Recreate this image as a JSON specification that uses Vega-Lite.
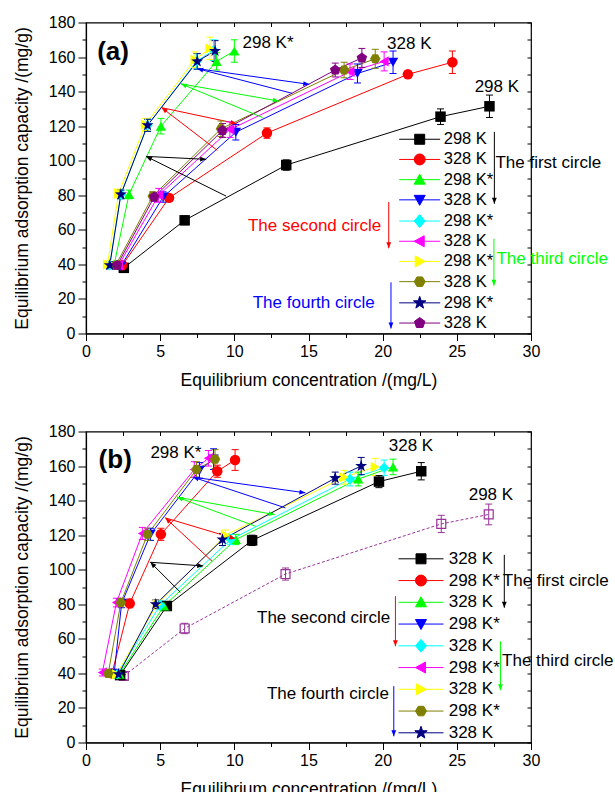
{
 "$schema": "https://vega.github.io/schema/vega-lite/v6.json",
 "padding": {"left": 12, "top": 13.5, "right": 2, "bottom": 0},
 "spacing": 32,
 "config": {
  "font": "Liberation Sans",
  "view": {"stroke": "black", "strokeWidth": 1.2},
  "axis": {"grid": false, "domainColor": "black", "tickColor": "black", "labelColor": "black", "titleColor": "black", "labelFont": "Liberation Sans", "titleFont": "Liberation Sans", "labelFontSize": 16, "titleFontSize": 17.5, "titleFontWeight": "normal", "domainWidth": 1.2, "tickWidth": 1, "labelFlush": false, "labelOverlap": false}
 },
 "resolve": {"scale": {"color": "independent", "shape": "independent", "fill": "independent", "stroke": "independent", "x": "independent", "y": "independent"}},
 "datasets": {
  "a": [
   {"s":1,"x":2.55,"y":38,"e":1.5},{"s":1,"x":6.65,"y":65.5,"e":2.5},{"s":1,"x":13.5,"y":97.5,"e":3},{"s":1,"x":23.9,"y":125.5,"e":4.5},{"s":1,"x":27.2,"y":131.5,"e":6.5},
   {"s":2,"x":2.45,"y":39.5,"e":1.5},{"s":2,"x":5.6,"y":78.5,"e":2},{"s":2,"x":12.2,"y":116,"e":3},{"s":2,"x":21.7,"y":150,"e":2},{"s":2,"x":24.7,"y":157,"e":6.5},
   {"s":3,"x":1.9,"y":40,"e":1.5},{"s":3,"x":2.9,"y":80.5,"e":2.5},{"s":3,"x":5.05,"y":120,"e":4.5},{"s":3,"x":8.8,"y":157.5,"e":5},{"s":3,"x":10,"y":163.5,"e":6.5},
   {"s":4,"x":2.35,"y":39,"e":2},{"s":4,"x":5.2,"y":79,"e":3},{"s":4,"x":10.1,"y":116.5,"e":4.5},{"s":4,"x":18.3,"y":150.5,"e":5.5},{"s":4,"x":20.7,"y":157,"e":6.5},
   {"s":5,"x":1.6,"y":39.5,"e":2},{"s":5,"x":2.35,"y":80.5,"e":2.5},{"s":5,"x":4.15,"y":120.5,"e":3.5},{"s":5,"x":7.45,"y":157.5,"e":4.5},{"s":5,"x":8.6,"y":164,"e":6},
   {"s":6,"x":2.2,"y":39.5,"e":2},{"s":6,"x":4.9,"y":80,"e":4},{"s":6,"x":9.7,"y":118,"e":4.5},{"s":6,"x":17.8,"y":151.5,"e":4.5},{"s":6,"x":20.1,"y":157.5,"e":5.5},
   {"s":7,"x":1.45,"y":40,"e":2},{"s":7,"x":2.2,"y":81,"e":2.5},{"s":7,"x":4,"y":121,"e":3.5},{"s":7,"x":7.35,"y":158.5,"e":4.5},{"s":7,"x":8.35,"y":165,"e":6.5},
   {"s":8,"x":2,"y":39.5,"e":2},{"s":8,"x":4.5,"y":79.5,"e":2.5},{"s":8,"x":9.1,"y":118.5,"e":4.5},{"s":8,"x":17.4,"y":152.5,"e":4.5},{"s":8,"x":19.5,"y":159,"e":5.5},
   {"s":9,"x":1.6,"y":39.5,"e":2},{"s":9,"x":2.35,"y":80.5,"e":2.5},{"s":9,"x":4.15,"y":120.5,"e":3.5},{"s":9,"x":7.5,"y":157.5,"e":4.5},{"s":9,"x":8.7,"y":163.5,"e":6},
   {"s":10,"x":2.1,"y":39.5,"e":2},{"s":10,"x":4.6,"y":79,"e":2.5},{"s":10,"x":9.2,"y":117.5,"e":4},{"s":10,"x":16.8,"y":152.5,"e":4},{"s":10,"x":18.6,"y":159.5,"e":5.5}
  ],
  "b": [
   {"s":0,"x":2.55,"y":38.5,"e":2},{"s":0,"x":6.65,"y":66,"e":3},{"s":0,"x":13.45,"y":97.5,"e":3.5},{"s":0,"x":23.95,"y":126.5,"e":5},{"s":0,"x":27.15,"y":132,"e":6},
   {"s":1,"x":2.3,"y":39,"e":1.5},{"s":1,"x":5.45,"y":79,"e":2.5},{"s":1,"x":11.2,"y":117,"e":3},{"s":1,"x":19.75,"y":151,"e":3.5},{"s":1,"x":22.6,"y":157,"e":5},
   {"s":2,"x":1.75,"y":40,"e":2},{"s":2,"x":2.95,"y":80.5,"e":2.5},{"s":2,"x":5.05,"y":120.5,"e":3.5},{"s":2,"x":8.85,"y":157,"e":3.5},{"s":2,"x":10.05,"y":163.5,"e":6},
   {"s":3,"x":2.25,"y":39.5,"e":2},{"s":3,"x":5.25,"y":79,"e":2.5},{"s":3,"x":10.1,"y":117.5,"e":3},{"s":3,"x":18.35,"y":152.5,"e":4},{"s":3,"x":20.7,"y":159.5,"e":4.5},
   {"s":4,"x":1.9,"y":40,"e":2},{"s":4,"x":2.4,"y":80.5,"e":2.5},{"s":4,"x":4.35,"y":120.5,"e":3.5},{"s":4,"x":7.65,"y":157.5,"e":4.5},{"s":4,"x":8.6,"y":164,"e":6},
   {"s":5,"x":2.1,"y":39.5,"e":2},{"s":5,"x":5,"y":79.5,"e":2.5},{"s":5,"x":9.75,"y":117.5,"e":3},{"s":5,"x":17.8,"y":152.5,"e":4},{"s":5,"x":20.1,"y":159,"e":4.5},
   {"s":6,"x":1.1,"y":40.5,"e":2},{"s":6,"x":2.05,"y":81,"e":2.5},{"s":6,"x":3.8,"y":121,"e":3.5},{"s":6,"x":7.3,"y":158,"e":4.5},{"s":6,"x":8.25,"y":164.5,"e":4.5},
   {"s":7,"x":2.05,"y":39.5,"e":2},{"s":7,"x":4.8,"y":80,"e":2.5},{"s":7,"x":9.4,"y":120,"e":3},{"s":7,"x":17.4,"y":153.5,"e":4},{"s":7,"x":19.5,"y":159.5,"e":5},
   {"s":8,"x":1.5,"y":40,"e":2},{"s":8,"x":2.35,"y":81,"e":2.5},{"s":8,"x":4.15,"y":120.5,"e":3.5},{"s":8,"x":7.45,"y":158,"e":4.5},{"s":8,"x":8.7,"y":164,"e":5.5},
   {"s":9,"x":2.2,"y":39.5,"e":2},{"s":9,"x":4.7,"y":80,"e":2.5},{"s":9,"x":9.2,"y":117.5,"e":3.5},{"s":9,"x":16.8,"y":153,"e":3.5},{"s":9,"x":18.55,"y":160,"e":5}
  ],
  "arrA": [
   {"x":9.45,"y":79.5,"x2":4.05,"y2":102.5,"c":"k"},
   {"x":4.05,"y":102.5,"x2":8.1,"y2":100.8,"c":"k"},
   {"x":8.85,"y":106,"x2":5.1,"y2":130.7,"c":"r"},
   {"x":5.1,"y":130.7,"x2":10.15,"y2":121.5,"c":"r"},
   {"x":11.9,"y":125,"x2":6.4,"y2":144.5,"c":"g"},
   {"x":6.4,"y":144.5,"x2":13,"y2":134.5,"c":"g"},
   {"x":13.9,"y":139,"x2":7.5,"y2":153.3,"c":"b"},
   {"x":7.5,"y":153.3,"x2":15.05,"y2":144.2,"c":"b"},
   {"x":27.53,"y":116.7,"x2":27.53,"y2":75.1,"c":"k"},
   {"x":20.41,"y":76.1,"x2":20.41,"y2":49.3,"c":"r"},
   {"x":27.5,"y":54.8,"x2":27.5,"y2":27.7,"c":"g"},
   {"x":20.56,"y":29.6,"x2":20.56,"y2":2.9,"c":"b"}
  ],
  "arrB": [
   {"x":6.36,"y":87,"x2":4.34,"y2":104.3,"c":"k"},
   {"x":4.34,"y":104.3,"x2":7.9,"y2":102.2,"c":"k"},
   {"x":8.5,"y":104.9,"x2":5.35,"y2":130,"c":"r"},
   {"x":5.35,"y":130,"x2":10.07,"y2":117.9,"c":"r"},
   {"x":11.42,"y":125.2,"x2":6.14,"y2":142,"c":"g"},
   {"x":6.14,"y":142,"x2":12.72,"y2":131.9,"c":"g"},
   {"x":13.44,"y":135.8,"x2":7.2,"y2":153.6,"c":"b"},
   {"x":7.2,"y":153.6,"x2":14.79,"y2":144.5,"c":"b"},
   {"x":28.2,"y":108.6,"x2":28.2,"y2":78,"c":"k"},
   {"x":20.86,"y":84.7,"x2":20.86,"y2":55.7,"c":"r"},
   {"x":27.94,"y":58.6,"x2":27.94,"y2":30.3,"c":"g"},
   {"x":20.75,"y":32.6,"x2":20.75,"y2":3.6,"c":"b"}
  ],
  "txtA": [
   {"t":"298 K*","x":10.55,"y":168.4,"c":"k"},
   {"t":"328 K","x":20.3,"y":167.3,"c":"k"},
   {"t":"298 K","x":26.2,"y":142.9,"c":"k"},
   {"t":"The first circle","x":27.6,"y":98.9,"c":"k"},
   {"t":"The second circle","x":10.92,"y":62.3,"c":"r"},
   {"t":"The third circle","x":27.67,"y":43.1,"c":"g"},
   {"t":"The fourth circle","x":11.24,"y":17.6,"c":"b"}
  ],
  "txtB": [
   {"t":"298 K*","x":4.34,"y":167.6,"c":"k"},
   {"t":"328 K","x":20.41,"y":171.5,"c":"k"},
   {"t":"298 K","x":25.8,"y":143.5,"c":"k"},
   {"t":"The first circle","x":28.1,"y":93.3,"c":"k"},
   {"t":"The second circle","x":11.53,"y":72.2,"c":"k"},
   {"t":"The third circle","x":28.05,"y":47,"c":"k"},
   {"t":"The fourth circle","x":12.2,"y":27.8,"c":"k"}
  ]
 },
 "vconcat": [
  {
   "width": 445, "height": 311,
   "resolve": {"scale": {"color": "independent", "shape": "independent", "stroke": "independent"}, "axis": {"x": "independent", "y": "independent"}},
   "layer": [
    {"data": {"name": "a"}, "mark": {"type": "line", "strokeWidth": 1},
     "encoding": {
      "x": {"field": "x", "type": "quantitative", "scale": {"domain": [0, 30], "nice": false},
            "axis": {"orient": "bottom", "values": [0,2.5,5,7.5,10,12.5,15,17.5,20,22.5,25,27.5,30], "labelExpr": "datum.value % 5 === 0 ? datum.label : ''", "tickSize": {"condition": {"test": "datum.value % 5 === 0", "value": 7}, "value": 4}, "labelPadding": 3, "title": "Equilibrium concentration /(mg/L)", "titlePadding": 12}},
      "y": {"field": "y", "type": "quantitative", "scale": {"domain": [0, 180], "nice": false},
            "axis": {"orient": "left", "values": [0,10,20,30,40,50,60,70,80,90,100,110,120,130,140,150,160,170,180], "labelExpr": "datum.value % 20 === 0 ? datum.label : ''", "tickSize": {"condition": {"test": "datum.value % 20 === 0", "value": 8}, "value": 4}, "labelPadding": 3, "title": "Equilibrium adsorption capacity /(mg/g)", "titlePadding": 17}},
      "color": {"field": "s", "type": "nominal", "scale": {"domain": [1,2,3,4,5,6,7,8,9,10], "range": ["#000000","#FF0000","#00FF00","#0000FF","#00FFFF","#FF00FF","#FFFF00","#808000","#000080","#800080"]}, "legend": null}
     }},
    {"data": {"name": "arrA"}, "mark": {"type": "rule", "strokeWidth": 1},
     "encoding": {
      "x": {"field": "x", "type": "quantitative", "scale": {"domain": [0, 30], "nice": false}, "axis": null},
      "y": {"field": "y", "type": "quantitative", "scale": {"domain": [0, 180], "nice": false}, "axis": null},
      "x2": {"field": "x2"}, "y2": {"field": "y2"},
      "stroke": {"field": "c", "type": "nominal", "scale": {"domain": ["k","r","g","b"], "range": ["#000000","#FF0000","#00FF00","#0000FF"]}, "legend": null}
     }},
    {"data": {"name": "a"}, "mark": {"type": "errorbar", "ticks": {"size": 7, "opacity": 1}, "thickness": 1},
     "encoding": {
      "x": {"field": "x", "type": "quantitative", "scale": {"domain": [0, 30], "nice": false}, "axis": null},
      "y": {"field": "y", "type": "quantitative", "scale": {"domain": [0, 180], "nice": false}, "axis": null},
      "yError": {"field": "e"},
      "color": {"field": "s", "type": "nominal", "scale": {"domain": [1,2,3,4,5,6,7,8,9,10], "range": ["#000000","#FF0000","#00FF00","#0000FF","#00FFFF","#FF00FF","#FFFF00","#808000","#000080","#800080"]}, "legend": null}
     }},
    {"data": {"name": "a"}, "mark": {"type": "point", "filled": true, "size": 110, "opacity": 1},
     "encoding": {
      "x": {"field": "x", "type": "quantitative", "scale": {"domain": [0, 30], "nice": false},
            "axis": {"orient": "top", "values": [0,2.5,5,7.5,10,12.5,15,17.5,20,22.5,25,27.5,30], "labels": false, "tickSize": -4, "domain": false, "title": null}},
      "y": {"field": "y", "type": "quantitative", "scale": {"domain": [0, 180], "nice": false},
            "axis": {"orient": "right", "values": [0,10,20,30,40,50,60,70,80,90,100,110,120,130,140,150,160,170,180], "labels": false, "tickSize": -4, "domain": false, "title": null}},
      "color": {"field": "s", "type": "nominal", "scale": {"domain": [1,2,3,4,5,6,7,8,9,10], "range": ["#000000","#FF0000","#00FF00","#0000FF","#00FFFF","#FF00FF","#FFFF00","#808000","#000080","#800080"]}, "legend": null},
      "shape": {"field": "s", "type": "nominal",
        "scale": {"domain": [1,2,3,4,5,6,7,8,9,10], "range": ["square","circle","triangle-up","triangle-down","diamond","triangle-left","triangle-right","M-1,0L-0.5,-0.87L0.5,-0.87L1,0L0.5,0.87L-0.5,0.87Z","M0,-1.2L0.28,-0.39L1.14,-0.37L0.46,0.15L0.71,0.97L0,0.48L-0.71,0.97L-0.46,0.15L-1.14,-0.37L-0.28,-0.39Z","M0,-1.05L1,-0.32L0.62,0.85L-0.62,0.85L-1,-0.32Z"]},
        "legend": null}
     }},
    {"data": {"name": "a"}, "mark": {"type": "point", "filled": true, "opacity": 0},
     "encoding": {
      "x": {"field": "x", "type": "quantitative", "scale": {"domain": [0, 30], "nice": false}, "axis": null},
      "y": {"field": "y", "type": "quantitative", "scale": {"domain": [0, 180], "nice": false}, "axis": null},
      "color": {"field": "s", "type": "nominal", "scale": {"domain": [1,2,3,4,5,6,7,8,9,10], "range": ["#000000","#FF0000","#00FF00","#0000FF","#00FFFF","#FF00FF","#FFFF00","#808000","#000080","#800080"]},
        "legend": {"orient": "none", "legendX": 312.7, "legendY": 108.5, "title": null, "padding": 0, "symbolSize": 100, "symbolStrokeWidth": 1, "symbolOffset": 12.75, "labelOffset": 15.75, "rowPadding": 3.2, "labelFont": "Liberation Sans", "labelFontSize": 16.5, "labelColor": "black", "symbolOpacity": 1,
          "labelExpr": "['298 K','328 K','298 K*','328 K','298 K*','328 K','298 K*','328 K','298 K*','328 K'][datum.value-1]"}},
      "stroke": {"field": "s", "type": "nominal", "scale": {"domain": [1,2,3,4,5,6,7,8,9,10], "range": ["#000000","#FF0000","#00FF00","#0000FF","#00FFFF","#FF00FF","#FFFF00","#808000","#000080","#800080"]},
        "legend": {"orient": "none", "legendX": 312.7, "legendY": 108.5, "title": null, "padding": 0, "symbolSize": 100, "symbolStrokeWidth": 1, "symbolOffset": 12.75, "labelOffset": 15.75, "rowPadding": 3.2, "labelFont": "Liberation Sans", "labelFontSize": 16.5, "labelColor": "black", "symbolOpacity": 1,
          "labelExpr": "['298 K','328 K','298 K*','328 K','298 K*','328 K','298 K*','328 K','298 K*','328 K'][datum.value-1]"}},
      "shape": {"field": "s", "type": "nominal",
        "scale": {"domain": [1,2,3,4,5,6,7,8,9,10], "range": ["M-4.1,0H4.1M-1,-1H1V1H-1Z","M-4.1,0H4.1M1.1,0A1.1,1.1,0,1,1,-1.1,0A1.1,1.1,0,1,1,1.1,0Z","M-4.1,0H4.1M0,-1.1L1.1,0.9L-1.1,0.9Z","M-4.1,0H4.1M0,1.1L1.1,-0.9L-1.1,-0.9Z","M-4.1,0H4.1M0,-1.3L1.1,0L0,1.3L-1.1,0Z","M-4.1,0H4.1M-1.1,0L0.9,-1.1L0.9,1.1Z","M-4.1,0H4.1M1.1,0L-0.9,-1.1L-0.9,1.1Z","M-4.1,0H4.1M-1.1,0L-0.55,-0.95L0.55,-0.95L1.1,0L0.55,0.95L-0.55,0.95Z","M-4.1,0H4.1M0,-1.3L0.3,-0.42L1.24,-0.4L0.5,0.16L0.77,1.05L0,0.52L-0.77,1.05L-0.5,0.16L-1.24,-0.4L-0.3,-0.42Z","M-4.1,0H4.1M0,-1.1L1.05,-0.34L0.65,0.89L-0.65,0.89L-1.05,-0.34Z"]},
        "legend": {"orient": "none", "legendX": 312.7, "legendY": 108.5, "title": null, "padding": 0, "symbolSize": 100, "symbolStrokeWidth": 1, "symbolOffset": 12.75, "labelOffset": 15.75, "rowPadding": 3.2, "labelFont": "Liberation Sans", "labelFontSize": 16.5, "labelColor": "black", "symbolOpacity": 1,
          "labelExpr": "['298 K','328 K','298 K*','328 K','298 K*','328 K','298 K*','328 K','298 K*','328 K'][datum.value-1]"}}
     }},
    {"data": {"name": "arrA"},
     "transform": [{"calculate": "atan2(-(datum.y2-datum.y)*1.728, (datum.x2-datum.x)*14.833)*180/PI", "as": "ang"}],
     "mark": {"type": "point", "shape": "M0,0L-2,-0.8L-2,0.8Z", "filled": true, "size": 36, "opacity": 1, "strokeWidth": 0},
     "encoding": {
      "x": {"field": "x2", "type": "quantitative", "scale": {"domain": [0, 30], "nice": false}, "axis": null},
      "y": {"field": "y2", "type": "quantitative", "scale": {"domain": [0, 180], "nice": false}, "axis": null},
      "angle": {"field": "ang", "type": "quantitative", "scale": null},
      "fill": {"field": "c", "type": "nominal", "scale": {"domain": ["k","r","g","b"], "range": ["#000000","#FF0000","#00FF00","#0000FF"]}, "legend": null}
     }},
    {"data": {"name": "txtA"}, "mark": {"type": "text", "align": "left", "baseline": "middle", "fontSize": 17},
     "encoding": {
      "x": {"field": "x", "type": "quantitative", "scale": {"domain": [0, 30], "nice": false}, "axis": null},
      "y": {"field": "y", "type": "quantitative", "scale": {"domain": [0, 180], "nice": false}, "axis": null},
      "text": {"field": "t"},
      "fill": {"field": "c", "type": "nominal", "scale": {"domain": ["k","r","g","b"], "range": ["#000000","#FF0000","#00FF00","#0000FF"]}, "legend": null}
     }},
    {"data": {"values": [{"t": "(a)", "x": 0.75, "y": 163}]}, "mark": {"type": "text", "align": "left", "baseline": "middle", "fontSize": 26, "fontWeight": "bold", "color": "black"},
     "encoding": {
      "x": {"field": "x", "type": "quantitative", "scale": {"domain": [0, 30], "nice": false}, "axis": null},
      "y": {"field": "y", "type": "quantitative", "scale": {"domain": [0, 180], "nice": false}, "axis": null},
      "text": {"field": "t"}
     }}
   ]
  },
  {
   "width": 445, "height": 311,
   "resolve": {"scale": {"color": "independent", "shape": "independent", "stroke": "independent"}, "axis": {"x": "independent", "y": "independent"}},
   "layer": [
    {"data": {"name": "b"}, "transform": [{"filter": "datum.s === 0"}], "mark": {"type": "line", "strokeWidth": 1, "strokeDash": [3, 2], "color": "#993399"},
     "encoding": {
      "x": {"field": "x", "type": "quantitative", "scale": {"domain": [0, 30], "nice": false}, "axis": null},
      "y": {"field": "y", "type": "quantitative", "scale": {"domain": [0, 180], "nice": false}, "axis": null}
     }},
    {"data": {"name": "b"}, "transform": [{"filter": "datum.s === 0"}], "mark": {"type": "errorbar", "ticks": {"size": 7, "opacity": 1}, "thickness": 1, "color": "#993399"},
     "encoding": {
      "x": {"field": "x", "type": "quantitative", "scale": {"domain": [0, 30], "nice": false}, "axis": null},
      "y": {"field": "y", "type": "quantitative", "scale": {"domain": [0, 180], "nice": false}, "axis": null},
      "yError": {"field": "e"}
     }},
    {"data": {"name": "b"}, "transform": [{"filter": "datum.s === 0"}], "mark": {"type": "point", "shape": "square", "filled": false, "size": 80, "opacity": 1, "strokeWidth": 1.2, "color": "#993399"},
     "encoding": {
      "x": {"field": "x", "type": "quantitative", "scale": {"domain": [0, 30], "nice": false}, "axis": null},
      "y": {"field": "y", "type": "quantitative", "scale": {"domain": [0, 180], "nice": false}, "axis": null}
     }},
    {"data": {"name": "b"}, "transform": [{"filter": "datum.s > 0"}], "mark": {"type": "line", "strokeWidth": 1},
     "encoding": {
      "x": {"field": "x", "type": "quantitative", "scale": {"domain": [0, 30], "nice": false},
            "axis": {"orient": "bottom", "values": [0,2.5,5,7.5,10,12.5,15,17.5,20,22.5,25,27.5,30], "labelExpr": "datum.value % 5 === 0 ? datum.label : ''", "tickSize": {"condition": {"test": "datum.value % 5 === 0", "value": 7}, "value": 4}, "labelPadding": 3, "title": "Equilibrium concentration /(mg/L)", "titlePadding": 12}},
      "y": {"field": "y", "type": "quantitative", "scale": {"domain": [0, 180], "nice": false},
            "axis": {"orient": "left", "values": [0,10,20,30,40,50,60,70,80,90,100,110,120,130,140,150,160,170,180], "labelExpr": "datum.value % 20 === 0 ? datum.label : ''", "tickSize": {"condition": {"test": "datum.value % 20 === 0", "value": 8}, "value": 4}, "labelPadding": 3, "title": "Equilibrium adsorption capacity /(mg/g)", "titlePadding": 17}},
      "color": {"field": "s", "type": "nominal", "scale": {"domain": [1,2,3,4,5,6,7,8,9], "range": ["#000000","#FF0000","#00FF00","#0000FF","#00FFFF","#FF00FF","#FFFF00","#808000","#000080"]}, "legend": null}
     }},
    {"data": {"name": "arrB"}, "mark": {"type": "rule", "strokeWidth": 1},
     "encoding": {
      "x": {"field": "x", "type": "quantitative", "scale": {"domain": [0, 30], "nice": false}, "axis": null},
      "y": {"field": "y", "type": "quantitative", "scale": {"domain": [0, 180], "nice": false}, "axis": null},
      "x2": {"field": "x2"}, "y2": {"field": "y2"},
      "stroke": {"field": "c", "type": "nominal", "scale": {"domain": ["k","r","g","b"], "range": ["#000000","#FF0000","#00FF00","#0000FF"]}, "legend": null}
     }},
    {"data": {"name": "b"}, "transform": [{"filter": "datum.s > 0"}], "mark": {"type": "errorbar", "ticks": {"size": 7, "opacity": 1}, "thickness": 1},
     "encoding": {
      "x": {"field": "x", "type": "quantitative", "scale": {"domain": [0, 30], "nice": false}, "axis": null},
      "y": {"field": "y", "type": "quantitative", "scale": {"domain": [0, 180], "nice": false}, "axis": null},
      "yError": {"field": "e"},
      "color": {"field": "s", "type": "nominal", "scale": {"domain": [1,2,3,4,5,6,7,8,9], "range": ["#000000","#FF0000","#00FF00","#0000FF","#00FFFF","#FF00FF","#FFFF00","#808000","#000080"]}, "legend": null}
     }},
    {"data": {"name": "b"}, "transform": [{"filter": "datum.s > 0"}], "mark": {"type": "point", "filled": true, "size": 110, "opacity": 1},
     "encoding": {
      "x": {"field": "x", "type": "quantitative", "scale": {"domain": [0, 30], "nice": false},
            "axis": {"orient": "top", "values": [0,2.5,5,7.5,10,12.5,15,17.5,20,22.5,25,27.5,30], "labels": false, "tickSize": -4, "domain": false, "title": null}},
      "y": {"field": "y", "type": "quantitative", "scale": {"domain": [0, 180], "nice": false},
            "axis": {"orient": "right", "values": [0,10,20,30,40,50,60,70,80,90,100,110,120,130,140,150,160,170,180], "labels": false, "tickSize": -4, "domain": false, "title": null}},
      "color": {"field": "s", "type": "nominal", "scale": {"domain": [1,2,3,4,5,6,7,8,9], "range": ["#000000","#FF0000","#00FF00","#0000FF","#00FFFF","#FF00FF","#FFFF00","#808000","#000080"]}, "legend": null},
      "shape": {"field": "s", "type": "nominal",
        "scale": {"domain": [1,2,3,4,5,6,7,8,9], "range": ["square","circle","triangle-up","triangle-down","diamond","triangle-left","triangle-right","M-1,0L-0.5,-0.87L0.5,-0.87L1,0L0.5,0.87L-0.5,0.87Z","M0,-1.2L0.28,-0.39L1.14,-0.37L0.46,0.15L0.71,0.97L0,0.48L-0.71,0.97L-0.46,0.15L-1.14,-0.37L-0.28,-0.39Z"]},
        "legend": null}
     }},
    {"data": {"name": "b"}, "transform": [{"filter": "datum.s > 0"}], "mark": {"type": "point", "filled": true, "opacity": 0},
     "encoding": {
      "x": {"field": "x", "type": "quantitative", "scale": {"domain": [0, 30], "nice": false}, "axis": null},
      "y": {"field": "y", "type": "quantitative", "scale": {"domain": [0, 180], "nice": false}, "axis": null},
      "color": {"field": "s", "type": "nominal", "scale": {"domain": [1,2,3,4,5,6,7,8,9], "range": ["#000000","#FF0000","#00FF00","#0000FF","#00FFFF","#FF00FF","#FFFF00","#808000","#000080"]},
        "legend": {"orient": "none", "legendX": 312.5, "legendY": 118.8, "title": null, "padding": 0, "symbolSize": 100, "symbolStrokeWidth": 1, "symbolOffset": 14, "labelOffset": 19.2, "rowPadding": 3.75, "labelFont": "Liberation Sans", "labelFontSize": 17, "labelColor": "black", "symbolOpacity": 1,
          "labelExpr": "['328 K','298 K*','328 K','298 K*','328 K','298 K*','328 K','298 K*','328 K'][datum.value-1]"}},
      "stroke": {"field": "s", "type": "nominal", "scale": {"domain": [1,2,3,4,5,6,7,8,9], "range": ["#000000","#FF0000","#00FF00","#0000FF","#00FFFF","#FF00FF","#FFFF00","#808000","#000080"]},
        "legend": {"orient": "none", "legendX": 312.5, "legendY": 118.8, "title": null, "padding": 0, "symbolSize": 100, "symbolStrokeWidth": 1, "symbolOffset": 14, "labelOffset": 19.2, "rowPadding": 3.75, "labelFont": "Liberation Sans", "labelFontSize": 17, "labelColor": "black", "symbolOpacity": 1,
          "labelExpr": "['328 K','298 K*','328 K','298 K*','328 K','298 K*','328 K','298 K*','328 K'][datum.value-1]"}},
      "shape": {"field": "s", "type": "nominal",
        "scale": {"domain": [1,2,3,4,5,6,7,8,9], "range": ["M-4.5,0H4.5M-1,-1H1V1H-1Z","M-4.5,0H4.5M1.1,0A1.1,1.1,0,1,1,-1.1,0A1.1,1.1,0,1,1,1.1,0Z","M-4.5,0H4.5M0,-1.1L1.1,0.9L-1.1,0.9Z","M-4.5,0H4.5M0,1.1L1.1,-0.9L-1.1,-0.9Z","M-4.5,0H4.5M0,-1.3L1.1,0L0,1.3L-1.1,0Z","M-4.5,0H4.5M-1.1,0L0.9,-1.1L0.9,1.1Z","M-4.5,0H4.5M1.1,0L-0.9,-1.1L-0.9,1.1Z","M-4.5,0H4.5M-1.1,0L-0.55,-0.95L0.55,-0.95L1.1,0L0.55,0.95L-0.55,0.95Z","M-4.5,0H4.5M0,-1.3L0.3,-0.42L1.24,-0.4L0.5,0.16L0.77,1.05L0,0.52L-0.77,1.05L-0.5,0.16L-1.24,-0.4L-0.3,-0.42Z"]},
        "legend": {"orient": "none", "legendX": 312.5, "legendY": 118.8, "title": null, "padding": 0, "symbolSize": 100, "symbolStrokeWidth": 1, "symbolOffset": 14, "labelOffset": 19.2, "rowPadding": 3.75, "labelFont": "Liberation Sans", "labelFontSize": 17, "labelColor": "black", "symbolOpacity": 1,
          "labelExpr": "['328 K','298 K*','328 K','298 K*','328 K','298 K*','328 K','298 K*','328 K'][datum.value-1]"}}
     }},
    {"data": {"name": "arrB"},
     "transform": [{"calculate": "atan2(-(datum.y2-datum.y)*1.728, (datum.x2-datum.x)*14.833)*180/PI", "as": "ang"}],
     "mark": {"type": "point", "shape": "M0,0L-2,-0.8L-2,0.8Z", "filled": true, "size": 36, "opacity": 1, "strokeWidth": 0},
     "encoding": {
      "x": {"field": "x2", "type": "quantitative", "scale": {"domain": [0, 30], "nice": false}, "axis": null},
      "y": {"field": "y2", "type": "quantitative", "scale": {"domain": [0, 180], "nice": false}, "axis": null},
      "angle": {"field": "ang", "type": "quantitative", "scale": null},
      "fill": {"field": "c", "type": "nominal", "scale": {"domain": ["k","r","g","b"], "range": ["#000000","#FF0000","#00FF00","#0000FF"]}, "legend": null}
     }},
    {"data": {"name": "txtB"}, "mark": {"type": "text", "align": "left", "baseline": "middle", "fontSize": 17},
     "encoding": {
      "x": {"field": "x", "type": "quantitative", "scale": {"domain": [0, 30], "nice": false}, "axis": null},
      "y": {"field": "y", "type": "quantitative", "scale": {"domain": [0, 180], "nice": false}, "axis": null},
      "text": {"field": "t"},
      "fill": {"field": "c", "type": "nominal", "scale": {"domain": ["k","r","g","b"], "range": ["#000000","#FF0000","#00FF00","#0000FF"]}, "legend": null}
     }},
    {"data": {"values": [{"t": "(b)", "x": 0.85, "y": 163.5}]}, "mark": {"type": "text", "align": "left", "baseline": "middle", "fontSize": 26, "fontWeight": "bold", "color": "black"},
     "encoding": {
      "x": {"field": "x", "type": "quantitative", "scale": {"domain": [0, 30], "nice": false}, "axis": null},
      "y": {"field": "y", "type": "quantitative", "scale": {"domain": [0, 180], "nice": false}, "axis": null},
      "text": {"field": "t"}
     }}
   ]
  }
 ]
}
